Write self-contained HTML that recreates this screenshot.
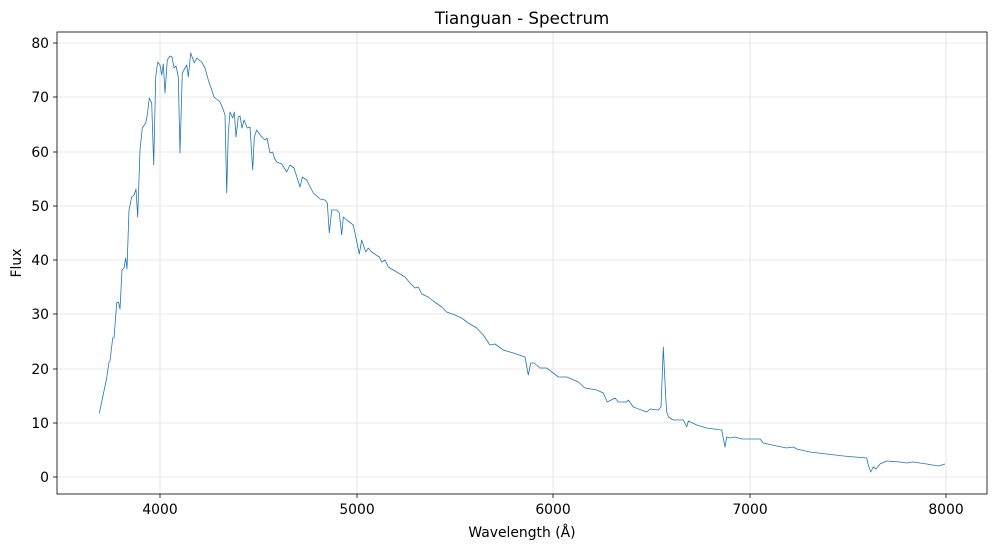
<!DOCTYPE html>
<html><head><meta charset="utf-8"><style>
body{margin:0;background:#fff;}
svg text{font-family:"DejaVu Sans","Liberation Sans",sans-serif;fill:#000;}
</style></head><body>
<svg width="996" height="549" xmlns="http://www.w3.org/2000/svg">
<rect width="996" height="549" fill="#fff"/>
<g stroke="#e0e0e0" stroke-width="0.8">
<line x1="160" y1="32" x2="160" y2="494"/><line x1="357" y1="32" x2="357" y2="494"/>
<line x1="553" y1="32" x2="553" y2="494"/><line x1="750" y1="32" x2="750" y2="494"/>
<line x1="946" y1="32" x2="946" y2="494"/>
<line x1="57" y1="477" x2="987" y2="477"/><line x1="57" y1="423" x2="987" y2="423"/>
<line x1="57" y1="369" x2="987" y2="369"/><line x1="57" y1="314" x2="987" y2="314"/>
<line x1="57" y1="260" x2="987" y2="260"/><line x1="57" y1="206" x2="987" y2="206"/>
<line x1="57" y1="152" x2="987" y2="152"/><line x1="57" y1="97" x2="987" y2="97"/>
<line x1="57" y1="43" x2="987" y2="43"/>
</g>
<polyline fill="none" stroke="#1f77b4" stroke-width="0.8" stroke-linejoin="round" points="
99.3,413.3 106.7,378 109,362 110,361 112.7,338 114,338 116.7,303 118.5,302 120,309 122,270 124,268 125.7,258 127,269 129,210 131.7,197 134,195 136,189 137.7,217 140,150 142.3,128 145.7,123 147.3,115 149.3,98 151.7,103 153.7,165 155.7,77 157.7,62 160,65 161.7,75 163.3,64 165,93 167.3,60 170,56 172,57 174,68 176,66 178.3,77 180,153 182.3,73 186.7,65 188.3,77 190.7,53 194.3,63 196.7,58 201.7,62 205,68 208.3,80 214,97 220,102 222.7,108 225,115 226.7,193 228.3,133 230,112 232.7,118 234.3,112 236,137 238.3,117 240,116 242,128 244,120 247.3,128 250,127 252.7,170 254.3,137 256.7,130 261.7,137 265,140 267,138 270,153 272.7,152 274.3,158 276.7,162 281.7,164 286.7,172 290,165 294,168 300,187 302.3,177 306.7,180 313.3,193 320,199 325,200 327.3,203 329.3,233 331.7,210 336.7,210 339.3,213 341.7,235 343.3,217 346.7,220 353.3,225 359.3,254 361.7,240 365.7,252 368.3,248 371.7,252 379.3,257 381.7,262 385,260 388.3,267 393.3,270 398.3,273 405,277 410,283 415,288 418.3,287 421.7,294 428.3,297 433.3,301 441.7,307 446.7,312 455,315 461.7,318 468.3,323 476.7,328 483.3,335 490,345 495,344 503.3,350 513.3,353 525,357 528.3,375 530.7,363 534,363 540,368 546.7,368 558.3,377 566.7,377 578.3,382 585,388 596.7,390 603.3,393 607.3,402 615,398 618.3,402 626.7,402 628.3,400 633.3,407 646.7,412 650,409 658.3,410 661,407 663.3,347 665.7,397 666.7,412 668.5,417 673.3,420 683.3,420 686.7,427 688.3,421 696.7,425 706.7,428 721.7,430 725,447 726.7,437 730,438 735,437 741.7,439 760,439 763.3,443 776.7,446 786.7,448 793.3,447 796.7,449 810,452 843.3,456 866.7,458 868.3,465 870.7,472 873.3,467 876,469 880,464 886.7,461 900,462 906.7,463 913,462 926.7,464 938.3,466 945,464"/>
<rect x="57" y="32" width="930" height="462" fill="none" stroke="#000" stroke-width="0.8"/>
<g stroke="#000" stroke-width="0.8">
<line x1="160" y1="494" x2="160" y2="498"/><line x1="357" y1="494" x2="357" y2="498"/>
<line x1="553" y1="494" x2="553" y2="498"/><line x1="750" y1="494" x2="750" y2="498"/>
<line x1="946" y1="494" x2="946" y2="498"/>
<line x1="53" y1="477" x2="57" y2="477"/><line x1="53" y1="423" x2="57" y2="423"/>
<line x1="53" y1="369" x2="57" y2="369"/><line x1="53" y1="314" x2="57" y2="314"/>
<line x1="53" y1="260" x2="57" y2="260"/><line x1="53" y1="206" x2="57" y2="206"/>
<line x1="53" y1="152" x2="57" y2="152"/><line x1="53" y1="97" x2="57" y2="97"/>
<line x1="53" y1="43" x2="57" y2="43"/>
</g>
<g font-size="13.9" text-anchor="middle">
<text x="160" y="514">4000</text><text x="357" y="514">5000</text><text x="553" y="514">6000</text>
<text x="750" y="514">7000</text><text x="946" y="514">8000</text>
</g>
<g font-size="13.9" text-anchor="end">
<text x="49" y="482">0</text><text x="49" y="428">10</text><text x="49" y="374">20</text>
<text x="49" y="319">30</text><text x="49" y="265">40</text><text x="49" y="211">50</text>
<text x="49" y="157">60</text><text x="49" y="102">70</text><text x="49" y="48">80</text>
</g>
<text x="522" y="537" font-size="13.9" text-anchor="middle">Wavelength (Å)</text>
<text x="21" y="263" font-size="13.9" text-anchor="middle" transform="rotate(-90 21 263)">Flux</text>
<text x="522" y="24" font-size="16.7" text-anchor="middle">Tianguan - Spectrum</text>
</svg>
</body></html>
